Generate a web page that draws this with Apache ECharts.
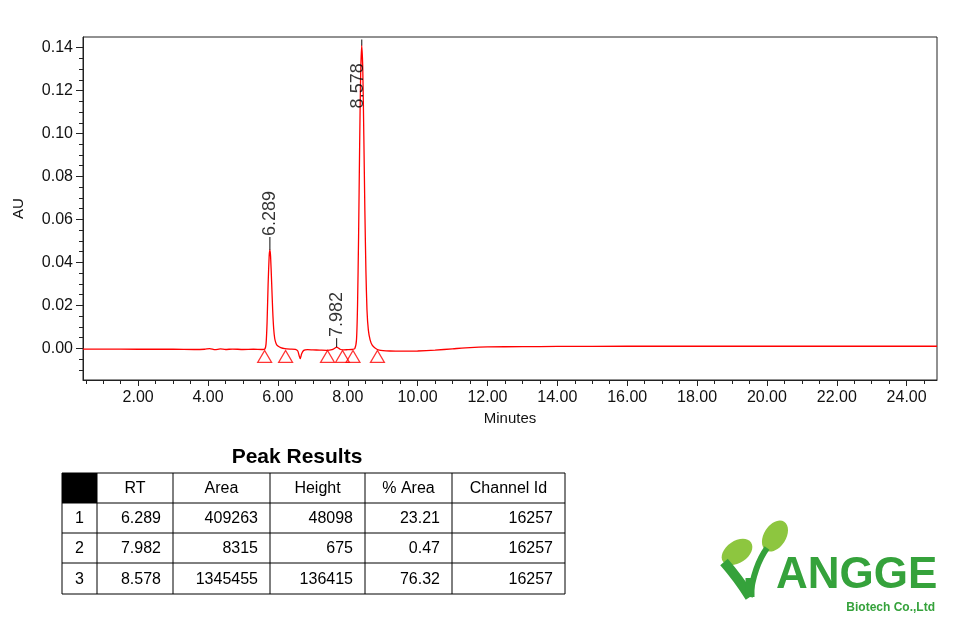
<!DOCTYPE html>
<html>
<head>
<meta charset="utf-8">
<script src="https://cdn.jsdelivr.net/npm/echarts@6/dist/echarts.min.js"></script>
<style>
  html, body { margin: 0; padding: 0; background: #ffffff; }
  #chart { width: 960px; height: 640px; }
</style>
</head>
<body>
<div id="chart"></div>
<script>
// chromatogram trace (minutes, AU)
const traceTime = [0.42, 1.0, 2.0, 3.0, 3.6, 3.9, 4.05, 4.2, 4.35, 4.5, 4.7, 5.0, 5.3, 5.55,
  5.62, 5.66, 5.69, 5.72, 5.75, 5.77, 5.79, 5.82, 5.85, 5.88, 5.91, 5.95, 6.0, 6.08, 6.2,
  6.35, 6.5, 6.57, 6.61, 6.64, 6.68, 6.74, 6.85, 7.0, 7.2, 7.4, 7.55, 7.63, 7.68, 7.72, 7.78,
  7.88, 8.0, 8.12, 8.2, 8.25, 8.28, 8.31, 8.34, 8.37, 8.40, 8.43, 8.46, 8.49, 8.52, 8.55,
  8.59, 8.64, 8.70, 8.78, 8.9, 9.2, 9.6, 10.0, 10.5, 11.0, 11.5, 12.0, 13.0, 14.0, 16.0,
  18.0, 20.0, 22.0, 24.0, 24.87]
const traceAU = [-0.0003, -0.0003, -0.0004, -0.0004, -0.0005, -0.0004, -0.0001, -0.0006, -0.0002, -0.0005, -0.0003, -0.0005, -0.0004, -0.0005,
  -0.0004, 0.002, 0.012, 0.030, 0.043, 0.0458, 0.043, 0.031, 0.018, 0.009, 0.0045, 0.0022, 0.0011, 0.0004, -0.0001,
  -0.0003, -0.0004, -0.0012, -0.0035, -0.0048, -0.0025, -0.0009, -0.0006, -0.0007, -0.0008, -0.0009, -0.0006, 0.0001, 0.0006, 0.0003, -0.0004,
  -0.0007, -0.0006, -0.0005, -0.0002, 0.004, 0.020, 0.052, 0.094, 0.128, 0.141, 0.130, 0.099, 0.064, 0.036, 0.018,
  0.0085, 0.004, 0.0015, 0.0002, -0.0008, -0.0012, -0.0013, -0.0012, -0.0008, -0.0002, 0.0004, 0.0007, 0.0008, 0.0009, 0.0010,
  0.0010, 0.0010, 0.0010, 0.0010, 0.0010]

// integration start / end markers
const baseMarkTime = [5.62, 6.22, 7.42, 7.85, 8.15, 8.85]

// peak apexes and their labels
const peakApexTime = [5.77, 7.68, 8.40]
const peakApexAU = [0.0458, 0.0006, 0.141]
const peakRT = ['6.289', '7.982', '8.578']

// peak results table
const tableHeader = ['RT', 'Area', 'Height', '% Area', 'Channel Id']
const peakArea = ['409263', '8315', '1345455']
const peakHeight = ['48098', '675', '136415']
const peakPctArea = ['23.21', '0.47', '76.32']
const channelId = ['16257', '16257', '16257']

// axis tick labels
const xLabelTicks = [2, 4, 6, 8, 10, 12, 14, 16, 18, 20, 22, 24]
const yLabelTicks = [0, 0.02, 0.04, 0.06, 0.08, 0.10, 0.12, 0.14]

const FONT = 'Liberation Sans'
const RED = '#ff0000'
const GREEN = '#35a23b'
const LEAF = '#8dc63f'

let xMinorTicks = []
for (let k = 1; k * 0.5 < 24.87; k++) xMinorTicks.push(k * 0.5)
let yMinorTicks = []
for (let k = -2; k <= 28; k++) yMinorTicks.push(+(k * 0.005).toFixed(3))

// table layout
const colX = [62, 97, 173, 270, 365, 452, 565]
const rowY = [473, 503, 533, 563, 594]

function buildTable () {
  let els = []
  els.push({
    type: 'text', x: 297, y: 457,
    style: { text: 'Peak Results', font: 'bold 21px "' + FONT + '"', fill: '#000', align: 'center', verticalAlign: 'middle' }
  })
  els.push({
    type: 'rect', shape: { x: colX[0], y: rowY[0], width: colX[1] - colX[0], height: rowY[1] - rowY[0] },
    style: { fill: '#000' }
  })
  for (let i = 0; i < rowY.length; i++) {
    els.push({ type: 'line', shape: { x1: colX[0], y1: rowY[i], x2: colX[6], y2: rowY[i] }, style: { stroke: '#000', lineWidth: 1 } })
  }
  for (let j = 0; j < colX.length; j++) {
    els.push({ type: 'line', shape: { x1: colX[j], y1: rowY[0], x2: colX[j], y2: rowY[4] }, style: { stroke: '#000', lineWidth: 1 } })
  }
  tableHeader.forEach(function (h, j) {
    els.push({
      type: 'text', x: (colX[j + 1] + colX[j + 2]) / 2, y: (rowY[0] + rowY[1]) / 2 + 1,
      style: { text: h, font: '16px "' + FONT + '"', fill: '#000', align: 'center', verticalAlign: 'middle' }
    })
  })
  for (let r = 0; r < 3; r++) {
    let cy = (rowY[r + 1] + rowY[r + 2]) / 2 + 1
    els.push({
      type: 'text', x: (colX[0] + colX[1]) / 2, y: cy,
      style: { text: String(r + 1), font: '16px "' + FONT + '"', fill: '#000', align: 'center', verticalAlign: 'middle' }
    })
    let cells = [peakRT[r], peakArea[r], peakHeight[r], peakPctArea[r], channelId[r]]
    cells.forEach(function (c, j) {
      els.push({
        type: 'text', x: colX[j + 2] - 12, y: cy,
        style: { text: c, font: '16px "' + FONT + '"', fill: '#000', align: 'right', verticalAlign: 'middle' }
      })
    })
  }
  return els
}

function buildLogo () {
  return [
    { type: 'ellipse', x: 737, y: 552, rotation: 0.6, shape: { cx: 0, cy: 0, rx: 17, ry: 11 }, style: { fill: LEAF } },
    { type: 'ellipse', x: 775, y: 536, rotation: 1.0, shape: { cx: 0, cy: 0, rx: 17, ry: 11 }, style: { fill: LEAF } },
    { type: 'bezierCurve', shape: { x1: 724, y1: 562, x2: 750, y2: 597, cpx1: 738, cpy1: 578 }, style: { stroke: GREEN, lineWidth: 10, fill: null } },
    { type: 'bezierCurve', shape: { x1: 767, y1: 548, x2: 750, y2: 597, cpx1: 754, cpy1: 566 }, style: { stroke: GREEN, lineWidth: 6, fill: null } },
    { type: 'line', shape: { x1: 750, y1: 578, x2: 750, y2: 597 }, style: { stroke: GREEN, lineWidth: 9 } },
    {
      type: 'text', x: 776, y: 598,
      style: { text: 'ANGGE', font: 'bold 44px "' + FONT + '"', fill: GREEN, align: 'left', verticalAlign: 'bottom' }
    },
    {
      type: 'text', x: 935, y: 608,
      style: { text: 'Biotech Co.,Ltd', font: 'bold 12px "' + FONT + '"', fill: GREEN, align: 'right', verticalAlign: 'middle' }
    }
  ]
}

const chart = echarts.init(document.getElementById('chart'))

const option = {
  backgroundColor: '#ffffff',
  animation: false,
  textStyle: { fontFamily: FONT },
  grid: { left: 83, right: 23, top: 37, bottom: 260, show: true, borderColor: '#222', borderWidth: 1 },
  xAxis: [
    {
      type: 'value', min: 0.42, max: 24.87, position: 'bottom',
      name: 'Minutes', nameLocation: 'middle', nameGap: 31,
      nameTextStyle: { fontSize: 15, color: '#111', fontFamily: FONT },
      axisLine: { onZero: false, lineStyle: { color: '#222', width: 1 } },
      axisTick: { customValues: xLabelTicks, length: 6, lineStyle: { color: '#222' } },
      axisLabel: {
        customValues: xLabelTicks, fontSize: 16, color: '#111', margin: 10,
        formatter: function (v) { return v.toFixed(2) }
      },
      splitLine: { show: false }
    },
    {
      type: 'value', min: 0.42, max: 24.87, position: 'bottom',
      axisLine: { show: false, onZero: false },
      axisTick: { customValues: xMinorTicks, length: 4, lineStyle: { color: '#222' } },
      axisLabel: { show: false },
      splitLine: { show: false }
    }
  ],
  yAxis: [
    {
      type: 'value', min: -0.0147, max: 0.1449, position: 'left',
      name: 'AU', nameLocation: 'middle', nameGap: 57, nameRotate: 90,
      nameTextStyle: { fontSize: 15, color: '#111', fontFamily: FONT },
      axisLine: { show: true, onZero: false, lineStyle: { color: '#222', width: 1 } },
      axisTick: { show: true, customValues: yLabelTicks, length: 7, lineStyle: { color: '#222' } },
      axisLabel: {
        customValues: yLabelTicks, fontSize: 16, color: '#111', margin: 10,
        formatter: function (v) { return v.toFixed(2) }
      },
      splitLine: { show: false }
    },
    {
      type: 'value', min: -0.0147, max: 0.1449, position: 'left',
      axisLine: { show: false, onZero: false },
      axisTick: { show: true, customValues: yMinorTicks, length: 4, lineStyle: { color: '#222' } },
      axisLabel: { show: false },
      splitLine: { show: false }
    }
  ],
  series: [
    {
      name: 'trace',
      type: 'line',
      data: traceTime.map(function (t, i) { return [t, traceAU[i]] }),
      showSymbol: false,
      smooth: 0.2,
      lineStyle: { color: RED, width: 1.3 },
      z: 2
    },
    {
      name: 'baseline marks',
      type: 'scatter',
      data: baseMarkTime.map(function (t) { return [t, 0] }),
      symbol: 'triangle',
      symbolSize: [14, 12],
      symbolOffset: [0, 8],
      itemStyle: { color: 'rgba(0,0,0,0)', borderColor: RED, borderWidth: 1.2 },
      z: 3
    },
    {
      name: 'peaks',
      type: 'scatter',
      data: peakApexTime.map(function (t, i) {
        let item = { value: [t, peakApexAU[i]], symbolSize: [1.2, i === 1 ? 9 : 13] }
        if (i === 2) {
          item.symbolSize = [1.2, 6]
          item.label = { offset: [-70, -4] }
        }
        return item
      }),
      symbol: 'rect',
      symbolOffset: [0, '-50%'],
      itemStyle: { color: '#000' },
      label: {
        show: true,
        position: 'top',
        distance: 1,
        rotate: 90,
        align: 'left',
        verticalAlign: 'middle',
        fontSize: 18,
        color: '#000',
        fontFamily: FONT,
        formatter: function (p) { return peakRT[p.dataIndex] }
      },
      z: 4
    }
  ],
  graphic: buildTable().concat(buildLogo())
}

chart.setOption(option)
</script>
</body>
</html>
